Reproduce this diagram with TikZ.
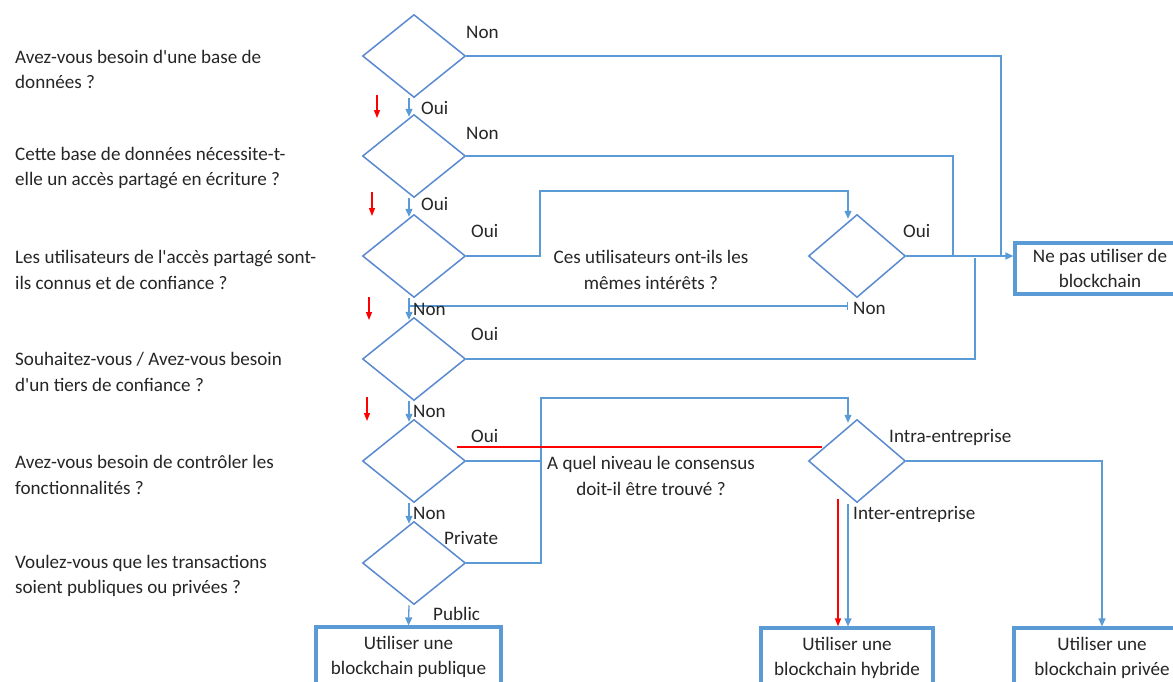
\documentclass[tikz,border=0pt]{standalone}
\usepackage{fontspec}
\setmainfont{Carlito}[Ligatures=TeXOff]
\usetikzlibrary{shapes.geometric,arrows.meta,calc}
\definecolor{lineblue}{HTML}{5B9BD5}
\definecolor{diablue}{HTML}{5A8AD0}
\definecolor{txt}{HTML}{262626}
\begin{document}
\begin{tikzpicture}[x=1pt,y=-1pt,
  font=\fontsize{19.1}{25.5}\selectfont, text=txt,
  dia/.style={draw=diablue, line width=1.5pt, diamond, minimum width=103pt, minimum height=83pt, inner sep=0pt},
  outbox/.style={draw=lineblue, line width=3.2pt, align=center, inner sep=0pt},
  conn/.style={draw=lineblue, line width=1.3pt},
  arr/.style={conn, -{Triangle[length=8pt,width=7pt]}},
  redline/.style={draw=red, line width=1.3pt},
  redarr/.style={redline, -{Triangle[length=8pt,width=6pt]}},
  lbl/.style={anchor=west, inner sep=0pt, text height=12pt, text depth=0pt},
  question/.style={anchor=west, align=left, inner sep=0pt},
  midtext/.style={align=center, inner sep=0pt}]
\useasboundingbox (0,0) rectangle (1173,681);
\fill[white] (0,0) rectangle (1173,681);

% questions
\node[question] (q1) at (15,69.5) {Avez-vous besoin d'une base de\\données ?};
\node[question] (q2) at (15,168) {Cette base de données nécessite-t-\\elle un accès partagé en écriture ?};
\node[question] (q3) at (15,270) {Les utilisateurs de l'accès partagé sont-\\ils connus et de confiance ?};
\node[question] (q4) at (15,372) {Souhaitez-vous / Avez-vous besoin\\d'un tiers de confiance ?};
\node[question] (q5) at (15,475) {Avez-vous besoin de contrôler les\\fonctionnalités ?};
\node[question] (q6) at (15,576) {Voulez-vous que les transactions\\soient publiques ou privées ?};

% diamonds
\node[dia] (d1) at (414,56) {};
\node[dia] (d2) at (414,156) {};
\node[dia] (d3) at (414,256) {};
\node[dia] (d4) at (414,359) {};
\node[dia] (d5) at (414,461) {};
\node[dia] (d6) at (414,563) {};
\node[dia, minimum width=97pt] (d3b) at (857,256) {};
\node[dia, minimum width=97pt] (d5b) at (857,461) {};

% boxes
\node[outbox, minimum width=170pt, minimum height=51pt] (nopas) at (1100,268.5) {Ne pas utiliser de\\blockchain};
\node[outbox, minimum width=185pt, minimum height=60pt] (pub) at (408.5,657) {Utiliser une\\blockchain publique};
\node[outbox, minimum width=172pt, minimum height=60pt] (hyb) at (847,658) {Utiliser une\\blockchain hybride};
\node[outbox, minimum width=176pt, minimum height=60pt] (priv) at (1102,658) {Utiliser une\\blockchain privée};

% middle texts
\node[midtext] (m1) at (651,270) {Ces utilisateurs ont-ils les\\mêmes intérêts ?};
\node[midtext] (m2) at (651,476) {A quel niveau le consensus\\doit-il être trouvé ?};

% helper coordinates
\coordinate (j1) at (1001,257);
\coordinate (j2) at (953,257);
\coordinate (j4) at (975,258);
\coordinate (k1) at (540,191);
\coordinate (k2) at (541,398);
\coordinate (k3) at (848,306);
\coordinate (k4) at (409,306);

% main column arrows
\draw[arr] ($(d1.south)+(-5,0)$) -- ($(d2.north)+(-5,3)$);
\draw[arr] ($(d2.south)+(-5,0)$) -- ($(d3.north)+(-5,3)$);
\draw[arr] ($(d3.south)+(-5,0)$) -- ($(d4.north)+(-5,3)$);
\draw[arr] ($(d4.south)+(-5,0)$) -- ($(d5.north)+(-5,3)$);
\draw[arr] ($(d5.south)+(-5,0)$) -- ($(d6.north)+(-5,3)$);
\draw[arr] ($(d6.south)+(-5,0)$) -- (pub.north);

% to "Ne pas utiliser"
\draw[conn] (d1.east) -| (j1);
\draw[conn] (d2.east) -| (j2);
\draw[conn] (d4.east) -| (j4);
\draw[arr] (d3b.east) -- (nopas.west |- d3b.east);

% d3 -> d3b
\draw[arr] (d3.east) -| (k1) -| ($(d3b.north)+(-9,5)$);
\draw[conn, {Bar[width=8pt]}-] (k3) -- (k4);

% d5/d6 -> d5b
\draw[conn] (d5.east) -- (k2 |- d5.east);
\draw[arr] (d6.east) -| (k2) -| ($(d5b.north)+(-9,4)$);
\draw[arr] (d5b.east) -| (priv.north);
\draw[arr] ($(d5b.south)+(-9,1)$) -- ($(hyb.north)+(1,0)$);

% red path
\draw[redline] ($(d5.east)+(-9,-14)$) -- ($(d5b.west)+(14,-14)$);
\draw[redarr] ($(d5b.south)+(-19,-4)$) -- ($(hyb.north)+(-9,0)$);

% red side arrows
\coordinate (r1a) at (377,95);  \coordinate (r1b) at (377,118);
\coordinate (r2a) at (372,192); \coordinate (r2b) at (372,216);
\coordinate (r3a) at (369,297); \coordinate (r3b) at (369,320);
\coordinate (r4a) at (367,397); \coordinate (r4b) at (367,421);
\draw[redarr] (r1a) -- (r1b);
\draw[redarr] (r2a) -- (r2b);
\draw[redarr] (r3a) -- (r3b);
\draw[redarr] (r4a) -- (r4b);

% labels
\node[lbl] (l1) at (466,32) {Non};
\node[lbl] (l2) at (421,108) {Oui};
\node[lbl] (l3) at (466,133) {Non};
\node[lbl] (l4) at (421,204) {Oui};
\node[lbl] (l5) at (471,231) {Oui};
\node[lbl] (l6) at (413,309) {Non};
\node[lbl] (l7) at (471,334) {Oui};
\node[lbl] (l8) at (413,411) {Non};
\node[lbl] (l9) at (471,436) {Oui};
\node[lbl] (l10) at (413,513) {Non};
\node[lbl] (l11) at (444,538) {Private};
\node[lbl] (l12) at (433,614) {Public};
\node[lbl] (l13) at (903,231) {Oui};
\node[lbl] (l14) at (853,308) {Non};
\node[lbl] (l15) at (889,436) {Intra-entreprise};
\node[lbl] (l16) at (853,513) {Inter-entreprise};
\end{tikzpicture}
\end{document}
